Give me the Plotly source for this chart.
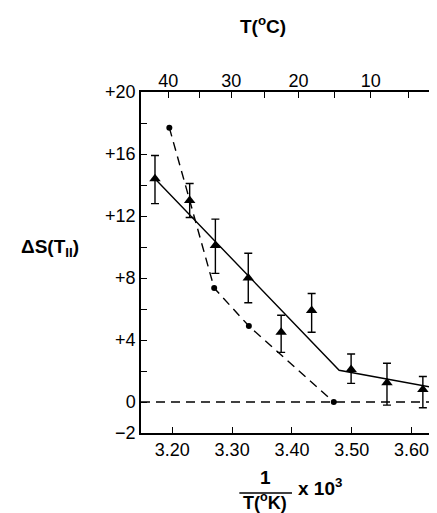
import plotly.graph_objects as go

# ---- data ----
tri_x = [3.171, 3.229, 3.272, 3.327, 3.382, 3.433, 3.499, 3.559, 3.619]
tri_y = [14.4, 13.0, 10.1, 8.0, 4.5, 5.9, 2.1, 1.25, 0.8]
tri_hi = [15.9, 14.1, 11.8, 9.6, 5.6, 7.0, 3.1, 2.5, 1.65]
tri_lo = [12.8, 11.9, 8.3, 6.4, 3.2, 4.5, 1.2, -0.2, -0.37]

circ_x = [3.195, 3.270, 3.328, 3.470]
circ_y = [17.7, 7.35, 4.9, 0.0]

fit_x = [3.171, 3.479, 3.638]
fit_y = [14.4, 2.05, 0.92]

x_ticks = [3.20, 3.30, 3.40, 3.50, 3.60]
x_ticklabels = ["3.20", "3.30", "3.40", "3.50", "3.60"]
y_ticks = [-2, 0, 4, 8, 12, 16, 20]
y_ticklabels = ["−2", "0", "+4", "+8", "+12", "+16", "+20"]
temp_major = [40, 30, 20, 10]
temp_labels = ["40", "30", "20", "10"]
temp_minor = [35, 25, 15, 5]

X_RANGE = [3.1476, 3.646]
Y_RANGE = [-2, 20]

FONT = "Liberation Sans, Arial, sans-serif"

err_plus = [h - y for h, y in zip(tri_hi, tri_y)]
err_minus = [y - l for l, y in zip(tri_lo, tri_y)]
temp_major_pos = [1000.0 / (t + 273.15) for t in temp_major]
temp_minor_pos = [1000.0 / (t + 273.15) for t in temp_minor]

fig = go.Figure()

fig.add_trace(go.Scatter(
    x=circ_x, y=circ_y, mode="lines+markers",
    line=dict(color="black", width=1.4, dash="9px,6px"),
    marker=dict(symbol="circle", size=6, color="black"),
    showlegend=False))

fig.add_trace(go.Scatter(
    x=fit_x, y=fit_y, mode="lines",
    line=dict(color="black", width=1.4),
    showlegend=False))

fig.add_trace(go.Scatter(
    x=tri_x, y=tri_y, mode="markers",
    marker=dict(symbol="triangle-up", size=10, color="black"),
    error_y=dict(type="data", symmetric=False, array=err_plus, arrayminus=err_minus,
                 color="black", thickness=1.4, width=4),
    showlegend=False))

# invisible traces to activate the top axes
for ax in ["x2", "x3"]:
    fig.add_trace(go.Scatter(x=[temp_major_pos[0]], y=[None], xaxis=ax, mode="markers",
                             marker=dict(opacity=0), showlegend=False, hoverinfo="skip"))

# dashed zero line
fig.add_shape(type="line", xref="paper", x0=0, x1=1, yref="y", y0=0, y1=0,
              line=dict(color="black", width=1.4, dash="9px,6px"))

L, R, T, B = 133, 4, 84, 88
W, H = 437, 513
pw, ph = W - L - R, H - T - B


def px(xp):
    return (xp - L) / pw


def py(yp):
    return (H - B - yp) / ph


tick_style = dict(ticks="inside", ticklen=6, tickwidth=1.4, tickcolor="black",
                  showgrid=False, zeroline=False)

fig.update_layout(
    width=W, height=H,
    margin=dict(l=L, r=R, t=T, b=B),
    paper_bgcolor="white", plot_bgcolor="white",
    font=dict(family=FONT, size=18, color="black"),
    xaxis=dict(range=X_RANGE, tickvals=x_ticks, ticktext=x_ticklabels,
               showline=True, linecolor="black", linewidth=1.5, mirror=True,
               **tick_style),
    xaxis2=dict(range=X_RANGE, overlaying="x", side="top",
                tickvals=temp_major_pos, ticktext=temp_labels,
                showline=False, **tick_style),
    xaxis3=dict(range=X_RANGE, overlaying="x", side="top",
                tickvals=temp_minor_pos, showticklabels=False,
                showline=False, **tick_style),
    yaxis=dict(range=Y_RANGE, tickvals=y_ticks, ticktext=y_ticklabels,
               showline=True, linecolor="black", linewidth=1.5, mirror="ticks",
               minor=dict(tick0=0, dtick=2, ticks="inside", ticklen=6,
                          tickwidth=1.4, tickcolor="black", showgrid=False),
               **tick_style),
)

ann = [
    dict(text="<b>T(<sup>o</sup>C)</b>", x=px(256), y=py(17), size=19),
    dict(text="<b>ΔS(T<sub>II</sub>)</b>", x=px(41), y=py(240), size=19),
    dict(text="<b>1</b>", x=px(258), y=py(470), size=19),
    dict(text="<b>T(<sup>o</sup>K)</b>", x=px(258), y=py(493), size=18),
    dict(text="<b>x 10<sup>3</sup></b>", x=px(313), y=py(479), size=19),
]
for a in ann:
    fig.add_annotation(text=a["text"], x=a["x"], y=a["y"], xref="paper", yref="paper",
                       showarrow=False, xanchor="center", yanchor="middle",
                       font=dict(family=FONT, size=a["size"], color="black"))

fig.add_shape(type="line", xref="paper", yref="paper",
              x0=px(232), x1=px(285), y0=py(485), y1=py(485),
              line=dict(color="black", width=1.6))

fig.write_html("out.html")
